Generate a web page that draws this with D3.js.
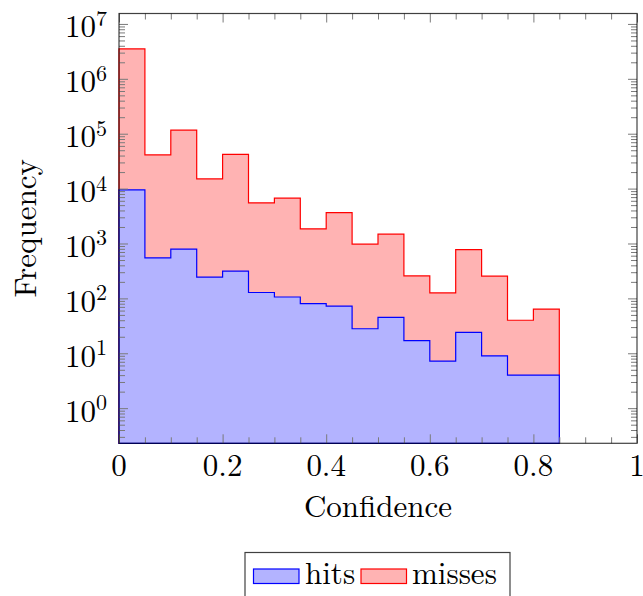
<!DOCTYPE html>
<html>
<head>
<meta charset="utf-8">
<script src="https://cdn.jsdelivr.net/npm/d3@7"></script>
<style>
  body { margin: 0; background: #fff; font-family: 'Latin Modern Roman', 'Liberation Serif', serif; }
  svg text { font-family: 'Latin Modern Roman', 'Liberation Serif', serif; }
</style>
</head>
<body>
<div id="plot"></div>
<script>
// left edge of each confidence bin (width 0.05)
const binStart = [0, 0.05, 0.1, 0.15, 0.2, 0.25, 0.3, 0.35, 0.4, 0.45, 0.5, 0.55, 0.6, 0.65, 0.7, 0.75, 0.8];
const binWidth = 0.05;
// counts per bin
const hits = [9500, 547, 788, 243, 313, 128, 106, 80, 72, 28, 45, 17, 7.2, 24, 9, 4, 4];
const misses = [3.5e6, 4.1e4, 1.16e5, 1.5e4, 4.2e4, 5500, 6700, 1850, 3650, 970, 1480, 257, 126, 774, 254, 40, 64];
const xTicks = [0, 0.2, 0.4, 0.6, 0.8, 1];
const xMinor = [0.05, 0.1, 0.15, 0.25, 0.3, 0.35, 0.45, 0.5, 0.55, 0.65, 0.7, 0.75, 0.85, 0.9, 0.95];
const yExp = [0, 1, 2, 3, 4, 5, 6, 7];

const W = 643, H = 596;
const L = 119, R = 637, T = 13.5, B = 443.3;
const serif = "'Latin Modern Roman', 'Liberation Serif', serif";

const svg = d3.select('#plot').append('svg')
    .attr('width', W)
    .attr('height', H);

const x = d3.scaleLinear().domain([0, 1]).range([L, R]);
// log axis, a bit beyond 10^7 on top and under 10^0 at the bottom
const y = d3.scaleLog().domain([Math.pow(10, -0.64), Math.pow(10, 7.19)]).range([B, T]);

// make step points, repeating the last value at the right edge
function steps(vals) {
    let pts = binStart.map((b, i) => ({ x: b, v: vals[i] }));
    pts.push({ x: binStart[binStart.length - 1] + binWidth, v: vals[vals.length - 1] });
    return pts;
}

const area = d3.area()
    .x(d => x(d.x))
    .y0(B)
    .y1(d => y(d.v))
    .curve(d3.curveStepAfter);

// misses behind, hits in front
svg.append('path')
    .attr('d', area(steps(misses)) + 'Z')
    .attr('fill', '#ffb3b3')
    .attr('stroke', '#ff0000')
    .attr('stroke-width', 1.2);
svg.append('path')
    .attr('d', area(steps(hits)) + 'Z')
    .attr('fill', '#b3b3ff')
    .attr('stroke', '#0000ff')
    .attr('stroke-width', 1.2);

// ticks (inward, on all four sides)
function tickGroup(axis, tr) {
    let g = svg.append('g').attr('transform', tr).call(axis);
    g.select('.domain').remove();
    g.selectAll('.tick line').attr('stroke', '#7a7a7a').attr('stroke-width', 1);
    g.selectAll('.tick text').remove();
    return g;
}
tickGroup(d3.axisBottom(x).tickValues(xTicks).tickSizeInner(-9).tickSizeOuter(0), `translate(0,${B})`);
tickGroup(d3.axisBottom(x).tickValues(xMinor).tickSizeInner(-6).tickSizeOuter(0), `translate(0,${B})`);
tickGroup(d3.axisTop(x).tickValues(xTicks).tickSizeInner(-9).tickSizeOuter(0), `translate(0,${T})`);
tickGroup(d3.axisTop(x).tickValues(xMinor).tickSizeInner(-6).tickSizeOuter(0), `translate(0,${T})`);

let yMajor = yExp.map(e => Math.pow(10, e));
let yMinor = [];
for (let e = -1; e <= 7; e++) {
    for (let k = 2; k <= 9; k++) {
        let v = k * Math.pow(10, e);
        if (v > y.domain()[0] && v < y.domain()[1]) yMinor.push(v);
    }
}
tickGroup(d3.axisLeft(y).tickValues(yMajor).tickSizeInner(-9).tickSizeOuter(0), `translate(${L},0)`);
tickGroup(d3.axisLeft(y).tickValues(yMinor).tickSizeInner(-6).tickSizeOuter(0), `translate(${L},0)`);
tickGroup(d3.axisRight(y).tickValues(yMajor).tickSizeInner(-9).tickSizeOuter(0), `translate(${R},0)`);
tickGroup(d3.axisRight(y).tickValues(yMinor).tickSizeInner(-6).tickSizeOuter(0), `translate(${R},0)`);

// axis box
svg.append('rect')
    .attr('x', L).attr('y', T)
    .attr('width', R - L).attr('height', B - T)
    .attr('fill', 'none')
    .attr('stroke', '#000')
    .attr('stroke-opacity', 0.75)
    .attr('stroke-width', 1.2);

// x tick labels
svg.selectAll('text.xl')
    .data(xTicks)
    .enter()
    .append('text')
    .attr('class', 'xl')
    .attr('x', d => x(d))
    .attr('y', 476)
    .attr('text-anchor', 'middle')
    .style('font-family', serif)
    .style('font-size', '31px')
    .text(d => d3.format('~g')(d));

// y tick labels 10^e
let yl = svg.selectAll('text.yl')
    .data(yExp)
    .enter()
    .append('text')
    .attr('class', 'yl')
    .attr('x', 107)
    .attr('y', d => y(Math.pow(10, d)) + 13.5)
    .attr('text-anchor', 'end')
    .style('font-family', serif)
    .style('font-size', '31px');
yl.append('tspan').text('10');
yl.append('tspan')
    .attr('dy', -11.5)
    .style('font-size', '22px')
    .text(d => d);

// axis titles
svg.append('text')
    .attr('x', (L + R) / 2)
    .attr('y', 517)
    .attr('text-anchor', 'middle')
    .style('font-family', serif)
    .style('font-size', '31px')
    .text('Confidence');
svg.append('text')
    .attr('transform', `translate(36,${(T + B) / 2}) rotate(-90)`)
    .attr('text-anchor', 'middle')
    .style('font-family', serif)
    .style('font-size', '31px')
    .text('Frequency');

// legend
let lg = svg.append('g');
lg.append('rect')
    .attr('x', 245).attr('y', 552.5)
    .attr('width', 265).attr('height', 50)
    .attr('fill', '#fff')
    .attr('stroke', '#000')
    .attr('stroke-opacity', 0.75)
    .attr('stroke-width', 1.2);
const legendItems = [
    { name: 'hits', fill: '#b3b3ff', stroke: '#0000ff', x: 253.5, tx: 305 },
    { name: 'misses', fill: '#ffb3b3', stroke: '#ff0000', x: 361, tx: 412 }
];
legendItems.forEach(d => {
    lg.append('rect')
        .attr('x', d.x).attr('y', 569)
        .attr('width', 45.5).attr('height', 14.5)
        .attr('fill', d.fill)
        .attr('stroke', d.stroke)
        .attr('stroke-width', 1.2);
    lg.append('text')
        .attr('x', d.tx)
        .attr('y', 584)
        .style('font-family', serif)
        .style('font-size', '31px')
        .text(d.name);
});
</script>
</body>
</html>
